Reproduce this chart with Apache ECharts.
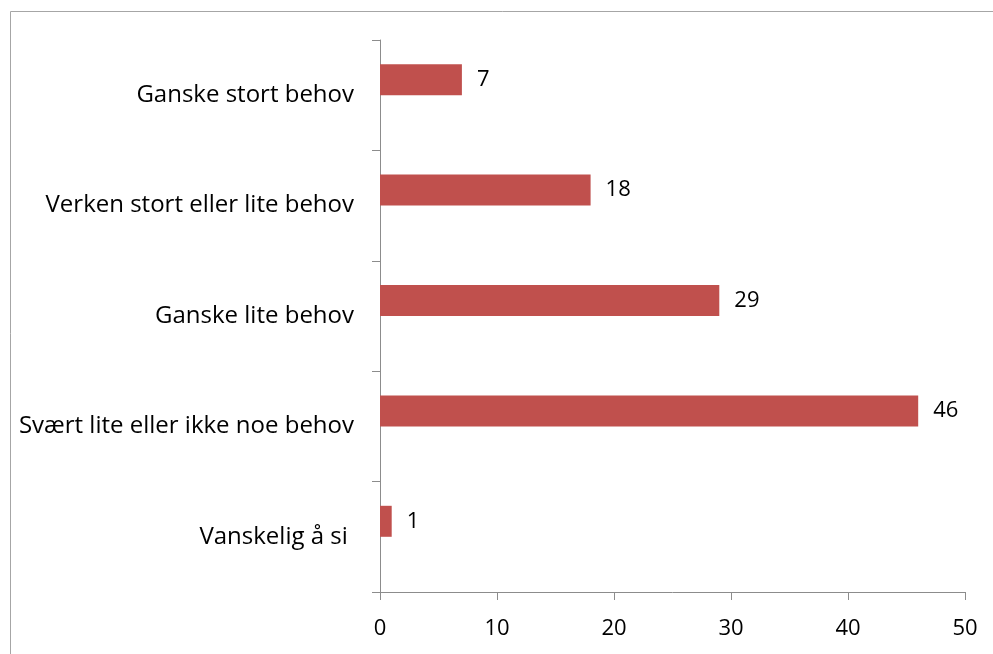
<!DOCTYPE html>
<html><head><meta charset="utf-8">
<script src="https://cdn.jsdelivr.net/npm/echarts@6/dist/echarts.min.js"></script>
<style>html,body{margin:0;padding:0;background:#fff}#c{width:993px;height:654px}</style>
</head><body><div id="c"></div>
<script>
const categories = ["Ganske stort behov", "Verken stort eller lite behov", "Ganske lite behov", "Svært lite eller ikke noe behov", "Vanskelig å si "];
const values = [7, 18, 29, 46, 1];
const emptySeries = [null, null, null, null, null];
const xTicks = [0, 10, 20, 30, 40, 50];

const chart = echarts.init(document.getElementById('c'));
const font = '"Open Sans", "Noto Sans", sans-serif';
chart.setOption({
  animation: false,
  graphic: [{type:'rect', shape:{x:10.5, y:11.5, width:1100, height:800}, style:{fill:'none', stroke:'#a6a6a6', lineWidth:1}, silent:true}],
  grid: {left: 380, right: 28, top: 40, bottom: 62},
  xAxis: {type:'value', min: xTicks[0], max: xTicks[xTicks.length-1], interval: 10,
    splitLine:{show:false},
    axisLine:{show:true, lineStyle:{color:'#8c8c8c'}},
    axisTick:{show:true, length:8, lineStyle:{color:'#8c8c8c'}},
    axisLabel:{color:'#000', fontFamily:font, fontSize:22, margin:26}},
  yAxis: {type:'category', data: categories, inverse: true,
    axisLine:{show:true, lineStyle:{color:'#8c8c8c'}},
    axisTick:{show:true, length:8, lineStyle:{color:'#8c8c8c'}},
    axisLabel:{color:'#000', fontFamily:font, fontSize:24, margin:26}},
  series: [
    {type:'bar', data: values, barWidth: 31, barGap:'0%', itemStyle:{color:'#c0504d'},
     label:{show:true, position:'right', distance:15, color:'#000', fontFamily:font, fontSize:22}},
    {type:'bar', data: emptySeries, barWidth: 31, barGap:'0%'}
  ]
});
</script></body></html>
